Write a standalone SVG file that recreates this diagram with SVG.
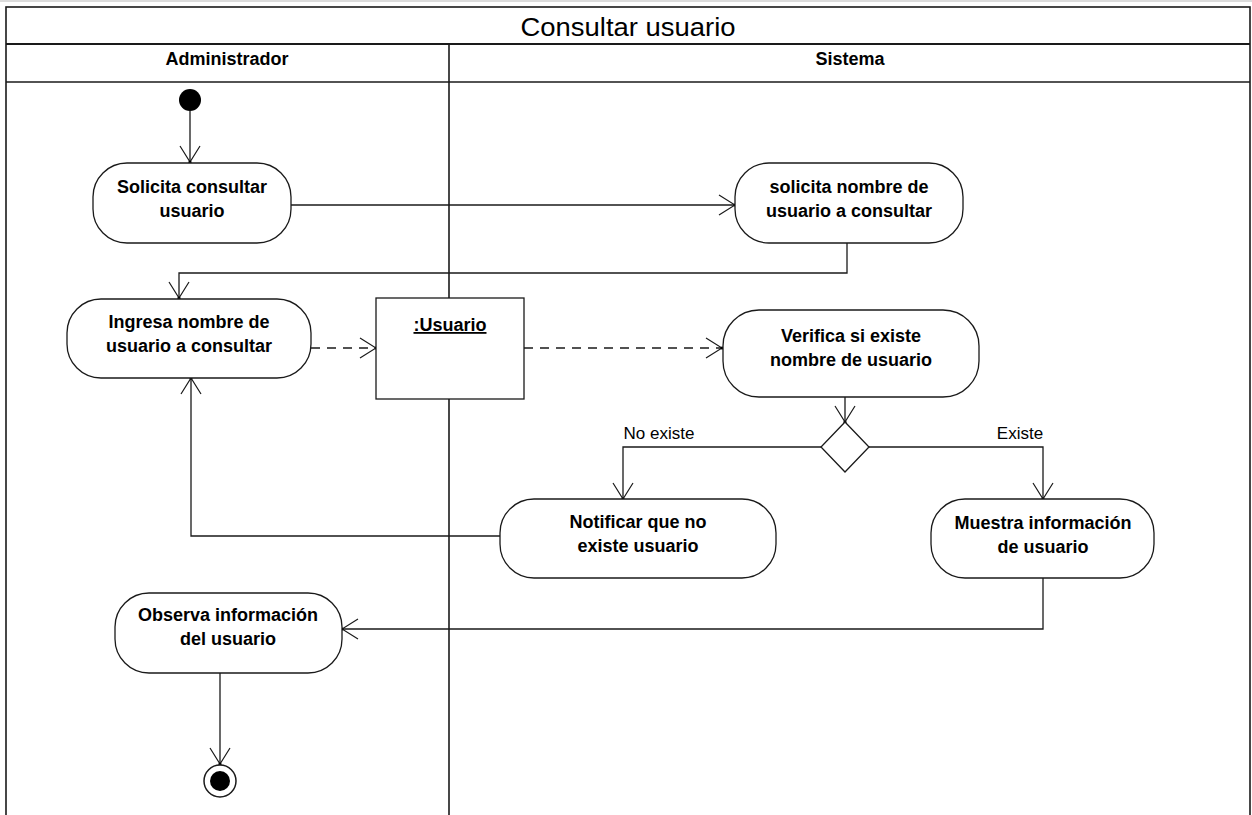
<svg xmlns="http://www.w3.org/2000/svg" width="1252" height="815" viewBox="0 0 1252 815">
<style>
.frame{fill:none;stroke:#1a1a1a;stroke-width:1.6}
.node{fill:#fff;stroke:#1a1a1a;stroke-width:1.3}
.t{font-family:"Liberation Sans",Arial,sans-serif;font-weight:bold;font-size:18px;fill:#000;text-anchor:middle}
.lbl{font-family:"Liberation Sans",Arial,sans-serif;font-size:17px;fill:#000;text-anchor:middle}
.edge{fill:none;stroke:#1a1a1a;stroke-width:1.3}
.dash{stroke-dasharray:9,7}
</style>
<defs>
<marker id="arr" viewBox="0 0 18 22" refX="17" refY="11" markerWidth="18" markerHeight="22" markerUnits="userSpaceOnUse" orient="auto">
<path d="M1,1 L17,11 L1,21" fill="none" stroke="#1a1a1a" stroke-width="1.2"/>
<circle cx="17" cy="11" r="1.6" fill="#000"/>
</marker>
</defs>
<rect width="1252" height="815" fill="#fff"/>
<line x1="0" y1="1" x2="1252" y2="1" stroke="#d0d0d0" stroke-width="1.5"/>
<g id="frame">
<rect class="frame" x="6" y="7" width="1244" height="812"/>
<line x1="6" y1="44" x2="1250" y2="44" stroke="#1a1a1a" stroke-width="2.2"/>
<line x1="6" y1="82" x2="1250" y2="82" stroke="#1a1a1a" stroke-width="1.6"/>
<line x1="449" y1="44" x2="449" y2="815" stroke="#1a1a1a" stroke-width="1.6"/>
<text x="628" y="36" font-family="'Liberation Sans',Arial,sans-serif" font-size="25" text-anchor="middle" textLength="215" lengthAdjust="spacingAndGlyphs">Consultar usuario</text>
<text x="227" y="65" class="t" font-size="16">Administrador</text>
<text x="850" y="65" class="t" font-size="16">Sistema</text>
</g>
<g id="connectors">
<line class="edge" x1="190" y1="111" x2="190" y2="162" marker-end="url(#arr)"/>
<line class="edge" x1="291" y1="205" x2="735" y2="205" marker-end="url(#arr)"/>
<polyline class="edge" points="847,243 847,273 179,273 179,298" marker-end="url(#arr)"/>
<line class="edge dash" x1="311" y1="348" x2="376" y2="348" marker-end="url(#arr)"/>
<line class="edge dash" x1="524" y1="348" x2="722" y2="348" marker-end="url(#arr)"/>
<line class="edge" x1="845" y1="397" x2="845" y2="422" marker-end="url(#arr)"/>
<polyline class="edge" points="821,447 623,447 623,499" marker-end="url(#arr)"/>
<polyline class="edge" points="869,447 1043,447 1043,499" marker-end="url(#arr)"/>
<polyline class="edge" points="500,536 191,536 191,378" marker-end="url(#arr)"/>
<polyline class="edge" points="1043,578 1043,629 342,629" marker-end="url(#arr)"/>
<line class="edge" x1="220" y1="673" x2="220" y2="764" marker-end="url(#arr)"/>
<text x="659" y="439" class="lbl">No existe</text>
<text x="1020" y="439" class="lbl">Existe</text>
</g>
<g id="start"><circle cx="190" cy="100" r="11" fill="#000"/></g>
<g id="n1">
<rect class="node" x="93" y="163" width="198" height="80" rx="34" ry="34"/>
<text class="t" x="192" y="193">Solicita consultar</text>
<text class="t" x="192" y="217">usuario</text>
</g>
<g id="n2">
<rect class="node" x="735" y="163" width="228" height="80" rx="34" ry="34"/>
<text class="t" x="849" y="193">solicita nombre de</text>
<text class="t" x="849" y="217">usuario a consultar</text>
</g>
<g id="n3">
<rect class="node" x="67" y="299" width="244" height="79" rx="34" ry="34"/>
<text class="t" x="189" y="328">Ingresa nombre de</text>
<text class="t" x="189" y="352">usuario a consultar</text>
</g>
<g id="obj">
<rect class="node" x="376" y="298" width="148" height="101"/>
<text class="t" x="450" y="331" text-decoration="underline">:Usuario</text>
</g>
<g id="n4">
<rect class="node" x="723" y="310" width="256" height="87" rx="36" ry="36"/>
<text class="t" x="851" y="342">Verifica si existe</text>
<text class="t" x="851" y="366">nombre de usuario</text>
</g>
<g id="decision"><polygon class="node" points="845,422 869,447 845,472 821,447"/></g>
<g id="n5">
<rect class="node" x="500" y="499" width="276" height="79" rx="34" ry="34"/>
<text class="t" x="638" y="528">Notificar que no</text>
<text class="t" x="638" y="552">existe usuario</text>
</g>
<g id="n6">
<rect class="node" x="931" y="499" width="223" height="79" rx="34" ry="34"/>
<text class="t" x="1043" y="529">Muestra información</text>
<text class="t" x="1043" y="553">de usuario</text>
</g>
<g id="n7">
<rect class="node" x="115" y="593" width="227" height="80" rx="34" ry="34"/>
<text class="t" x="228" y="621">Observa información</text>
<text class="t" x="228" y="645">del usuario</text>
</g>
<g id="end">
<circle cx="220" cy="781" r="16" fill="#fff" stroke="#1a1a1a" stroke-width="1.5"/>
<circle cx="220" cy="781" r="10" fill="#000"/>
</g>
</svg>
